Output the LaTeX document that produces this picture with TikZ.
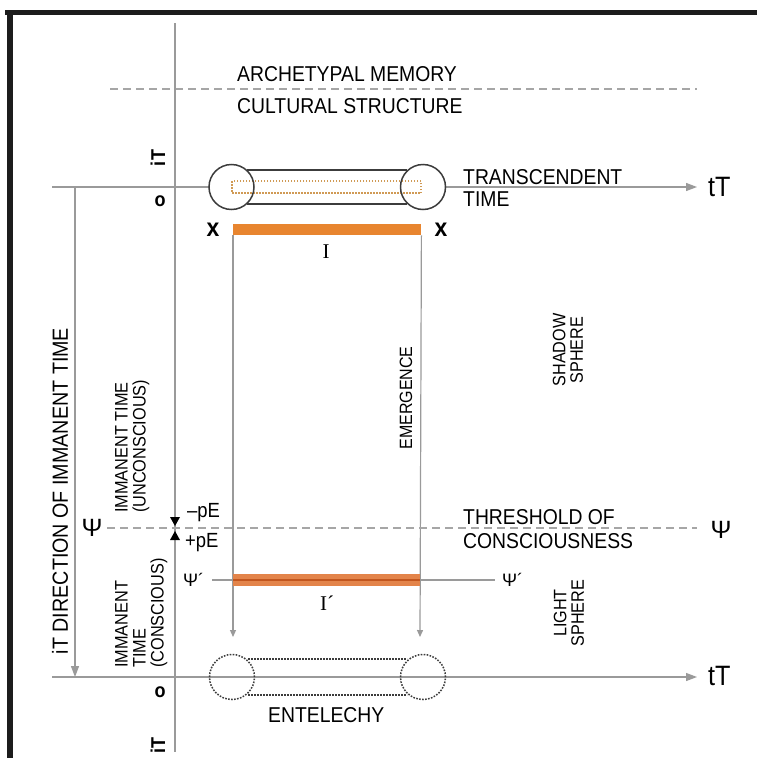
\documentclass[tikz,border=0pt]{standalone}
\usepackage{fontspec}
\setmainfont[FakeStretch=0.9]{Liberation Sans}
\newfontfamily\plainsans{Liberation Sans}
\newfontfamily\serifI{Liberation Serif}
\usetikzlibrary{arrows.meta}
\definecolor{axisgray}{HTML}{9A9A9A}
\definecolor{dashgray}{HTML}{A6A6A6}
\definecolor{capline}{HTML}{3C3C3C}
\definecolor{barorange}{HTML}{E8852F}
\definecolor{barorangeB}{HTML}{E3844A}
\definecolor{bardark}{HTML}{C2561E}
\definecolor{dotorange}{HTML}{D09A55}
\definecolor{framek}{HTML}{1C1C1C}
\begin{document}
\begin{tikzpicture}[x=1pt,y=-1pt,
  axis/.style={draw=axisgray, line width=1.2pt},
  dashln/.style={draw=dashgray, line width=1.2pt, dash pattern=on 8pt off 5pt},
  bigtip/.style={-{Triangle[length=11pt,width=8pt]}},
  smalltip/.style={-{Triangle[length=7pt,width=6pt]}},
  lab/.style={inner sep=0pt, font=\fontsize{21.5}{22}\selectfont},
  rlab/.style={inner sep=0pt, rotate=90},
  capsule/.style={draw=capline, line width=1.5pt},
  dcapsule/.style={draw=capline, line width=1.5pt, dash pattern=on 1.6pt off 1.4pt},
  ring/.style={circle, minimum size=45pt, inner sep=0pt},
  bold/.style={inner sep=0pt, font=\fontsize{20}{20}\selectfont\bfseries},
]
\useasboundingbox (0,0) rectangle (757,758);
\fill[white] (0,0) rectangle (757,758);
% frame
\fill[framek] (5,10) rectangle (757,15);
\fill[framek] (7,10) rectangle (13,758);

% top dashed line and labels
\coordinate (am1) at (110,89);
\coordinate (am2) at (697,89);
\draw[dashln] (am1) -- (am2);
\node[lab, anchor=west] (arch) at (237,74) {ARCHETYPAL MEMORY};
\node[lab, anchor=west] (cult) at (237,106) {CULTURAL STRUCTURE};

% main vertical axis
\coordinate (vtop) at (175,23);
\coordinate (vbot) at (175,752);
\draw[axis] (vtop) -- (vbot);

% top horizontal axis
\coordinate (ta0) at (52,187);
\coordinate (ta1) at (209,187);
\coordinate (ta2) at (445,187);
\coordinate (ta3) at (697,187);
\draw[axis] (ta0) -- (ta1);
\draw[axis, bigtip] (ta2) -- (ta3);
\node[inner sep=0pt, anchor=west, font=\fontsize{28}{28}\selectfont] (tT1) at (708,187) {tT};

% bottom horizontal axis
\coordinate (ba0) at (52,677);
\coordinate (ba3) at (697,677);
\draw[axis, bigtip] (ba0) -- (ba3);
\node[inner sep=0pt, anchor=west, font=\fontsize{28}{28}\selectfont] (tT2) at (708,676) {tT};

% left direction arrow
\coordinate (la0) at (75,187);
\coordinate (la1) at (75,677);
\draw[axis, bigtip] (la0) -- (la1);
\node[rlab, font=\fontsize{21.9}{22}\selectfont] (dir) at (60,491) {iT DIRECTION OF IMMANENT TIME};

% axis labels
\node[bold, rotate=90] (iT1) at (158,158) {iT};
\node[bold] (o1) at (160,201) {o};
\node[bold] (o2) at (160,692) {o};
\node[bold, rotate=90] (iT2) at (158,745) {iT};

% top capsule
\draw[dotorange, line width=1.2pt, dash pattern=on 1.5pt off 1.5pt] (232,181) rectangle (421,193);
\node[ring, capsule] (c1) at (231.5,187) {};
\node[ring, capsule] (c2) at (423,187) {};
\coordinate (t1a) at (247,170); \coordinate (t1b) at (407,170);
\coordinate (t2a) at (247,204); \coordinate (t2b) at (407,204);
\draw[capsule] (t1a) -- (t1b);
\draw[capsule] (t2a) -- (t2b);
\node[lab, anchor=west, align=left] (trans) at (463,188) {TRANSCENDENT\\TIME};

% bar I
\node[fill=barorange, minimum width=188pt, minimum height=11pt, inner sep=0pt, anchor=north west] (barI) at (233,224) {};
\node[inner sep=0pt, font=\fontsize{25.5}{25.5}\selectfont\bfseries] (xl) at (213,230) {x};
\node[inner sep=0pt, font=\fontsize{25.5}{25.5}\selectfont\bfseries] (xr) at (441,230) {x};
\node[inner sep=0pt, font=\serifI\fontsize{21}{21}\selectfont] (Ilab) at (326,252) {I};

% emergence lines
\coordinate (e1) at (233,637);
\coordinate (e2) at (420,637);
\draw[axis, smalltip] (barI.south west) -- (e1);
\draw[axis, smalltip] (barI.south east) -- (e2);
\node[rlab, font=\fontsize{17.8}{17.8}\selectfont] (emer) at (406,398) {EMERGENCE};
\node[rlab, align=center, font=\fontsize{18}{17.5}\selectfont] (shadow) at (568,350) {SHADOW\\SPHERE};

% immanent time labels
\node[rlab, anchor=north west, align=left, font=\fontsize{18.1}{18}\selectfont] (itu) at (115,513) {IMMANENT TIME\\(UNCONSCIOUS)};
\node[rlab, anchor=north west, align=left, font=\fontsize{18.1}{18}\selectfont] (itc) at (115,668) {IMMANENT\\TIME\\(CONSCIOUS)};

% threshold
\coordinate (th0) at (107,528);
\coordinate (th1) at (697,528);
\draw[dashln] (th0) -- (th1);
\node[inner sep=0pt, font=\plainsans\fontsize{25}{25}\selectfont] (psiL) at (92,528) {Ψ};
\node[inner sep=0pt, font=\plainsans\fontsize{25}{25}\selectfont] (psiR) at (721,530) {Ψ};
\fill[black] (170,517) -- (180,517) -- (175,526) -- cycle;
\fill[black] (170,540) -- (180,540) -- (175,531) -- cycle;
\node[inner sep=0pt, anchor=west, font=\fontsize{20.5}{20.5}\selectfont] (mpe) at (187,513) {–pE};
\node[inner sep=0pt, anchor=west, font=\fontsize{20.5}{20.5}\selectfont] (ppe) at (185,543) {+pE};
\node[lab, anchor=west, align=left, font=\fontsize{21.5}{24}\selectfont] (thr) at (463,529) {THRESHOLD OF\\CONSCIOUSNESS};

% bar I'
\node[fill=barorangeB, minimum width=187pt, minimum height=12pt, inner sep=0pt, anchor=west] (barI2) at (233,580) {};
\draw[bardark, line width=2.5pt] (barI2.west) -- (barI2.east);
\coordinate (pl) at (212,580);
\coordinate (pr) at (495,580);
\draw[axis] (pl) -- (barI2.west);
\draw[axis] (barI2.east) -- (pr);
\node[inner sep=0pt, anchor=west, font=\plainsans\fontsize{18}{18}\selectfont] (psipL) at (183,580) {Ψ´};
\node[inner sep=0pt, anchor=west, font=\plainsans\fontsize{18}{18}\selectfont] (psipR) at (502,580) {Ψ´};
\node[inner sep=0pt, font=\serifI\fontsize{21}{21}\selectfont] (I2lab) at (327,603) {I´};
\node[rlab, align=center, font=\fontsize{18}{17.5}\selectfont] (light) at (569,613) {LIGHT\\SPHERE};

% bottom capsule (entelechy)
\node[ring, dcapsule] (d1) at (232,677) {};
\node[ring, dcapsule] (d2) at (423,677) {};
\coordinate (b1a) at (248,659); \coordinate (b1b) at (407,659);
\coordinate (b2a) at (248,695); \coordinate (b2b) at (407,695);
\draw[dcapsule] (b1a) -- (b1b);
\draw[dcapsule] (b2a) -- (b2b);
\node[lab, anchor=west] (ent) at (268,715) {ENTELECHY};
\end{tikzpicture}
\end{document}
